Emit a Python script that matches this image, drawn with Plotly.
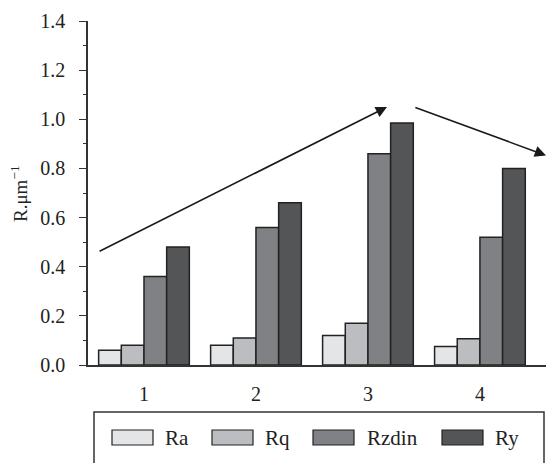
import plotly.graph_objects as go

categories = ["1", "2", "3", "4"]
ra = [0.06, 0.08, 0.12, 0.075]
rq = [0.08, 0.11, 0.17, 0.107]
rzdin = [0.36, 0.56, 0.86, 0.52]
ry = [0.48, 0.66, 0.985, 0.80]

series_names = ["Ra", "Rq", "Rzdin", "Ry"]
series_values = [ra, rq, rzdin, ry]
series_colors = ["#e4e5e7", "#bcbdc0", "#808185", "#545557"]

FONT = "Liberation Serif, Times New Roman, Times, serif"
EDGE = "#222222"

fig = go.Figure()
for name, vals, col in zip(series_names, series_values, series_colors):
    fig.add_trace(go.Bar(
        x=categories, y=vals, name=name,
        marker=dict(color=col, line=dict(color=EDGE, width=1.5)),
        showlegend=False,
    ))

# trend arrows over the groups
arrows = [((-0.41, 0.46), (2.17, 1.05)), ((2.41, 1.05), (3.59, 0.853))]
for (x0, y0), (x1, y1) in arrows:
    fig.add_annotation(
        x=x1, y=y1, ax=x0, ay=y0, xref="x", yref="y", axref="x", ayref="y",
        showarrow=True, arrowhead=2, arrowsize=1.4, arrowwidth=1.6,
        arrowcolor="#1a1a1a", text="",
    )

# legend box drawn below the axis
W, H = 546, 463
ml, mr, mt, mb = 88, 0, 21, 98
pw, ph = W - ml - mr, H - mt - mb

def px(x):
    return (x - ml) / pw

def py(y):
    return (H - mb - y) / ph

fig.add_shape(type="rect", xref="paper", yref="paper",
              x0=px(94), x1=px(544), y0=py(412), y1=py(475),
              line=dict(color="#333333", width=1.5), fillcolor="rgba(0,0,0,0)")

swatch_x = [112, 212, 313, 442]
label_x = [163, 263, 365, 493]
for sx, lx, name, col in zip(swatch_x, label_x, series_names, series_colors):
    fig.add_shape(type="rect", xref="paper", yref="paper",
                  x0=px(sx), x1=px(sx + 41), y0=py(430), y1=py(445),
                  line=dict(color=EDGE, width=1.2), fillcolor=col)
    fig.add_annotation(x=px(lx), y=py(437.5), xref="paper", yref="paper",
                       text=name, showarrow=False, xanchor="left",
                       yanchor="middle", font=dict(family=FONT, size=21, color="#222"))

# y-axis title
fig.add_annotation(x=px(19), y=py(194), xref="paper", yref="paper",
                   xanchor="center", yanchor="middle",
                   text="R.μm<sup>−1</sup>", showarrow=False, textangle=-90,
                   font=dict(family=FONT, size=19, color="#222"))

fig.update_layout(
    width=W, height=H,
    margin=dict(l=ml, r=mr, t=mt, b=mb),
    paper_bgcolor="white", plot_bgcolor="white",
    barmode="group", bargap=0.19, bargroupgap=0.0,
    font=dict(family=FONT, size=20, color="#222"),
)
fig.update_xaxes(
    type="category", range=[-0.5, 3.59], showgrid=False, zeroline=False,
    showline=True, linecolor="#333333", linewidth=1.5, ticks="",
    ticklabelstandoff=10, tickfont=dict(family=FONT, size=20, color="#222"),
)
fig.update_yaxes(
    range=[0, 1.4], dtick=0.2, tickformat=".1f", showgrid=False, zeroline=False,
    showline=True, linecolor="#333333", linewidth=1.5,
    ticks="outside", ticklen=7, tickwidth=1.3, tickcolor="#333333",
    ticklabelstandoff=10,
    minor=dict(dtick=0.1, ticks="outside", ticklen=3, tickwidth=1.3, tickcolor="#333333"),
    tickfont=dict(family=FONT, size=20, color="#222"),
)

fig.write_html("out.html")
